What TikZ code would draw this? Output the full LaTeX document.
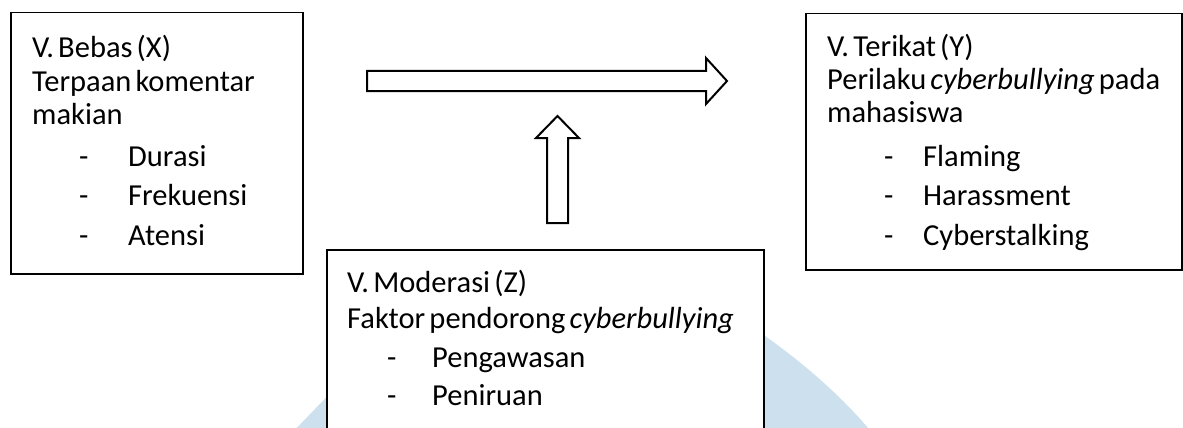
\documentclass[tikz,border=0pt]{standalone}
\usepackage{fontspec}
\setmainfont{Carlito}[WordSpace=0.6]
\definecolor{wm}{RGB}{205,224,238}
\begin{document}
\begin{tikzpicture}[x=1pt,y=-1pt,
  frame/.style={draw=black, line width=1.5pt, fill=white, inner sep=0pt, anchor=north west},
  txt/.style={anchor=base west, inner sep=0pt, font=\fontsize{30.5}{36}\selectfont},
  blockarrow/.style={draw=black, line width=2pt, fill=white, line join=miter}]
\useasboundingbox (0,0) rectangle (1183,428);
\clip (0,0) rectangle (1183,428);

% faint logo shape in the background
\fill[wm] (285,440) -- (345,378) -- (420,322) -- (742,320)
  .. controls (790,352) and (840,392) .. (878,440) -- cycle;

% frames
\node[frame, minimum width=292, minimum height=261] (bebas) at (10,12) {};
\node[frame, minimum width=376, minimum height=256] (terikat) at (805,13) {};
\node[frame, minimum width=437, minimum height=220] (moderasi) at (326,249) {};

% independent variable
\node[txt] (x1) at (32,58) {V. Bebas (X)};
\node[txt] (x2) at (32,91) {Terpaan komentar};
\node[txt] (x3) at (32,124) {makian};
\node[txt] (x4d) at (79,166) {-};
\node[txt] (x4) at (128,166) {Durasi};
\node[txt] (x5d) at (79,205) {-};
\node[txt] (x5) at (128,205) {Frekuensi};
\node[txt] (x6d) at (79,245) {-};
\node[txt] (x6) at (128,245) {Atensi};

% dependent variable
\node[txt] (y1) at (827,57) {V. Terikat (Y)};
\node[txt] (y2) at (827,89) {Perilaku \textit{cyberbullying} pada};
\node[txt] (y3) at (827,122) {mahasiswa};
\node[txt] (y4d) at (884,166) {-};
\node[txt] (y4) at (923,166) {Flaming};
\node[txt] (y5d) at (884,205) {-};
\node[txt] (y5) at (923,205) {Harassment};
\node[txt] (y6d) at (884,245) {-};
\node[txt] (y6) at (923,245) {Cyberstalking};

% moderating variable
\node[txt] (z1) at (347,292) {V. Moderasi (Z)};
\node[txt] (z2) at (347,328) {Faktor pendorong \textit{cyberbullying}};
\node[txt] (z3d) at (387,367) {-};
\node[txt] (z3) at (432,367) {Pengawasan};
\node[txt] (z4d) at (387,405) {-};
\node[txt] (z4) at (432,405) {Peniruan};

% block arrows
\draw[blockarrow] (367,71) -- (706,71) -- (706,58) -- (727,81)
  -- (706,104) -- (706,91) -- (367,91) -- cycle;
\draw[blockarrow] (547,223) -- (547,138) -- (536,138) -- (557.5,116)
  -- (579,138) -- (568,138) -- (568,223) -- cycle;
\end{tikzpicture}
\end{document}
